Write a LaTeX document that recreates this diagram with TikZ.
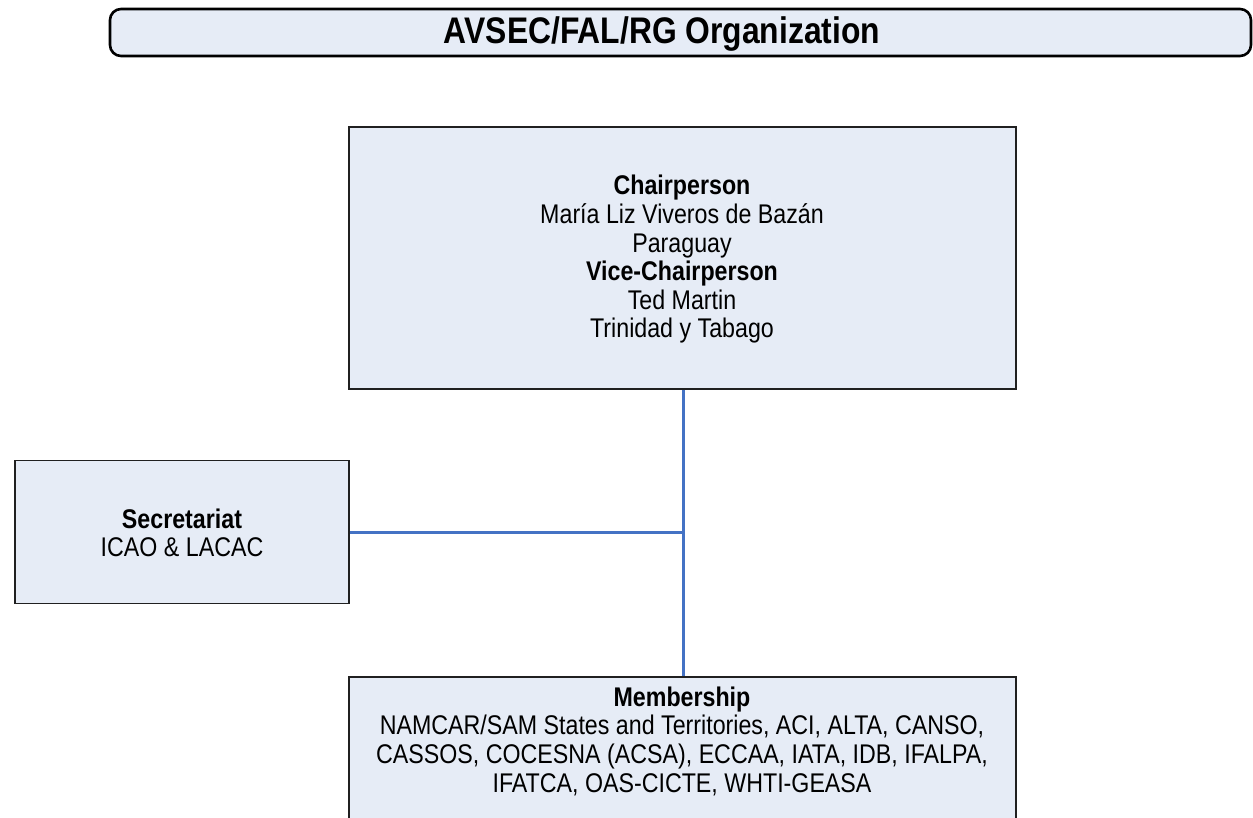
\documentclass[tikz,border=0pt]{standalone}
\usepackage{fontspec}
\setmainfont{Liberation Sans}[FakeStretch=0.86]
\definecolor{boxfill}{HTML}{E6ECF6}
\definecolor{linkblue}{HTML}{4472C4}
\definecolor{edge}{HTML}{202020}
\begin{document}
\begin{tikzpicture}[x=1pt,y=-1pt,
  orgbox/.style={draw=edge,line width=1.6pt,fill=boxfill,rectangle,inner sep=0pt},
  bodytext/.style={align=center,font=\fontsize{27}{28.6}\selectfont,inner sep=0pt},
  link/.style={draw=linkblue,line width=3pt}]
\useasboundingbox (0,0) rectangle (1253,817);
\clip (0,0) rectangle (1253,817);
% title
\draw[line width=2.6pt,fill=boxfill,rounded corners=11pt] (110,9) rectangle (1251,56);
\node[font=\bfseries\fontsize{37}{40}\selectfont,inner sep=0pt] (title) at (662,34) {AVSEC/FAL/RG Organization};
% boxes
\node[orgbox,minimum width=667pt,minimum height=262pt] (chair) at (682.5,258) {};
\node[orgbox,minimum width=334pt,minimum height=143pt] (sec) at (182,532) {};
\node[orgbox,minimum width=667pt,minimum height=200pt,anchor=north] (mem) at (682.5,676) {};
% texts
\node[bodytext] (chairtxt) at (682,259.5) {\textbf{Chairperson}\\María Liz Viveros de Bazán\\Paraguay\\\textbf{Vice-Chairperson}\\Ted Martin\\Trinidad y Tabago};
\node[bodytext] (sectxt) at (182,533) {\textbf{Secretariat}\\ICAO \& LACAC};
\node[bodytext,anchor=north] (memtxt) at (682,686.5) {\textbf{Membership}\\NAMCAR/SAM States and Territories, ACI, ALTA, CANSO,\\CASSOS, COCESNA (ACSA), ECCAA, IATA, IDB, IFALPA,\\IFATCA, OAS-CICTE, WHTI-GEASA};
% connectors
\coordinate (j) at (683,532);
\draw[link] (chair.south -| j) -- (mem.north -| j);
\draw[link] (sec.east) -- (j);
\end{tikzpicture}
\end{document}
